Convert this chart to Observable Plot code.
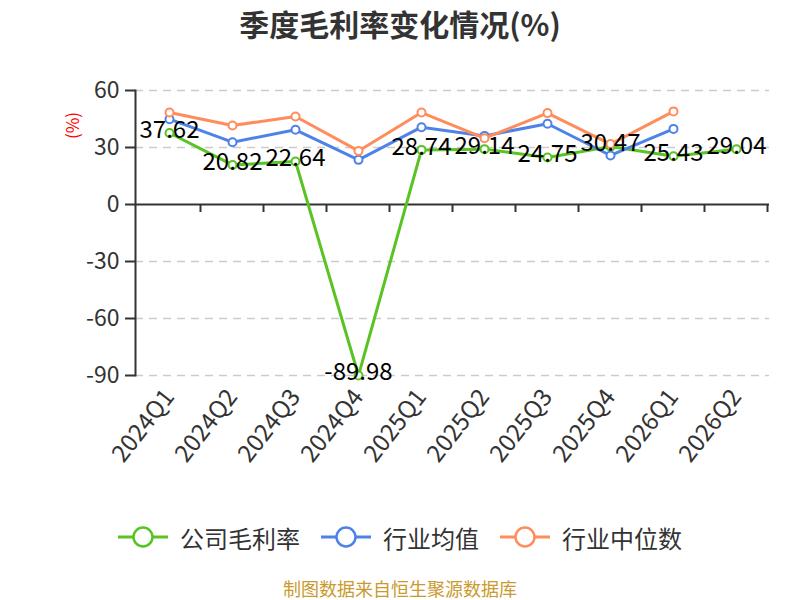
<!DOCTYPE html>
<html>
<head>
<meta charset="utf-8">
<script src="https://cdn.jsdelivr.net/npm/d3@7"></script>
<script src="https://cdn.jsdelivr.net/npm/@observablehq/plot@0.6"></script>
<style>
  html, body { margin: 0; padding: 0; background: #fff; }
  #wrap { position: relative; width: 800px; height: 600px; font-family: "Noto Sans CJK SC", "Noto Sans", sans-serif; overflow: hidden; }
  #title { position: absolute; left: 0; top: 0; width: 800px; height: 46px; line-height: 46px; text-align: center; font-size: 30px; font-weight: bold; color: #333; }
  #chart { position: absolute; left: 0; top: 46px; }
  #legend { position: absolute; left: 0; top: 517px; width: 800px; height: 40px; display: flex; justify-content: center; align-items: center; gap: 21px; font-size: 24px; color: #333; }
  .item { display: flex; align-items: center; }
  .item svg { margin-right: 12px; }
  #source { position: absolute; left: 0; top: 576px; width: 800px; text-align: center; font-size: 18px; color: #c99a2e; line-height: 24px; }
</style>
</head>
<body>
<div id="wrap">
  <div id="title">季度毛利率变化情况(%)</div>
  <div id="chart"></div>
  <div id="legend"></div>
  <div id="source">制图数据来自恒生聚源数据库</div>
</div>
<script>
const quarters = ["2024Q1","2024Q2","2024Q3","2024Q4","2025Q1","2025Q2","2025Q3","2025Q4","2026Q1","2026Q2"];
const companyMargin = [37.62, 20.82, 22.64, -89.98, 28.74, 29.14, 24.75, 30.47, 25.43, 29.04];
const industryAvg = [44.9, 32.8, 39.3, 23.5, 40.7, 36.1, 42.5, 25.8, 39.8, null];
const industryMedian = [48.4, 41.6, 46.3, 28.2, 48.4, 34.9, 48.1, 31.8, 49.0, null];
const yTicks = [60, 30, 0, -30, -60, -90];
const seriesNames = ["公司毛利率", "行业均值", "行业中位数"];
const seriesColors = ["#58c322", "#4f82e8", "#ff8d5c"];

const allSeries = [companyMargin, industryAvg, industryMedian];
const rows = [];
allSeries.forEach((vals, si) => {
  vals.forEach((v, i) => {
    if (v !== null) rows.push({q: quarters[i], v, s: seriesNames[si], c: seriesColors[si]});
  });
});
const companyRows = rows.filter(d => d.s === seriesNames[0]);

const boundaryTicks = (index, scales) => {
  const x = scales.x, y = scales.y;
  const step = x(quarters[1]) - x(quarters[0]);
  const g = d3.create("svg:g").attr("stroke", "#333").attr("stroke-width", 2);
  const y0 = y(0);
  const xs = quarters.map(q => x(q) - step / 2).concat([x(quarters[quarters.length - 1]) + step / 2]);
  xs.slice(1).forEach(px => {
    g.append("line").attr("x1", px).attr("x2", px).attr("y1", y0).attr("y2", y0 + 8);
  });
  return g.node();
};

const marks = [
  Plot.ruleY(yTicks.filter(t => t !== 0), {stroke: "#ccc", strokeWidth: 1.5, strokeDasharray: "8,6"}),
  Plot.ruleY([0], {stroke: "#333", strokeWidth: 2}),
  boundaryTicks,
  Plot.frame({anchor: "left", stroke: "#333", strokeWidth: 2}),
  Plot.axisY({ticks: yTicks, tickSize: 10, tickPadding: 6, fontSize: 23, fill: "#333", stroke: "#333", strokeWidth: 2, tickFormat: d => String(d), label: null}),
  Plot.axisX({tickRotate: -52, tickSize: 0, tickPadding: 17, fontSize: 24, fill: "#333", label: null}),
  Plot.text(["(%)"], {frameAnchor: "top-left", dx: -62, dy: 35, rotate: -90, textAnchor: "middle", lineAnchor: "middle", fill: "red", fontSize: 17})
];
seriesNames.forEach((name, si) => {
  const data = rows.filter(d => d.s === name);
  marks.push(Plot.line(data, {x: "q", y: "v", stroke: seriesColors[si], strokeWidth: 3}));
  marks.push(Plot.dot(data, {x: "q", y: "v", r: 4, fill: "white", stroke: seriesColors[si], strokeWidth: 2}));
});
marks.push(Plot.text(companyRows, {x: "q", y: "v", text: d => d.v.toFixed(2), dy: -3, fontSize: 24, fill: "#000"}));

const chart = Plot.plot({
  width: 800,
  height: 460,
  marginTop: 44,
  marginBottom: 131,
  marginLeft: 135,
  marginRight: 31,
  style: {fontFamily: "Noto Sans CJK SC, Noto Sans, sans-serif", background: "white", overflow: "visible"},
  x: {type: "point", domain: quarters, padding: 0.5, label: null},
  y: {domain: [-90, 60], label: null},
  marks
});
document.getElementById("chart").appendChild(chart);

const legend = document.getElementById("legend");
seriesNames.forEach((name, si) => {
  const item = document.createElement("div");
  item.className = "item";
  item.innerHTML = `<svg width="50" height="24"><line x1="0" x2="50" y1="12" y2="12" stroke="${seriesColors[si]}" stroke-width="3"/><circle cx="25" cy="12" r="9.5" fill="white" stroke="${seriesColors[si]}" stroke-width="2.5"/></svg><span>${name}</span>`;
  legend.appendChild(item);
});
</script>
</body>
</html>
